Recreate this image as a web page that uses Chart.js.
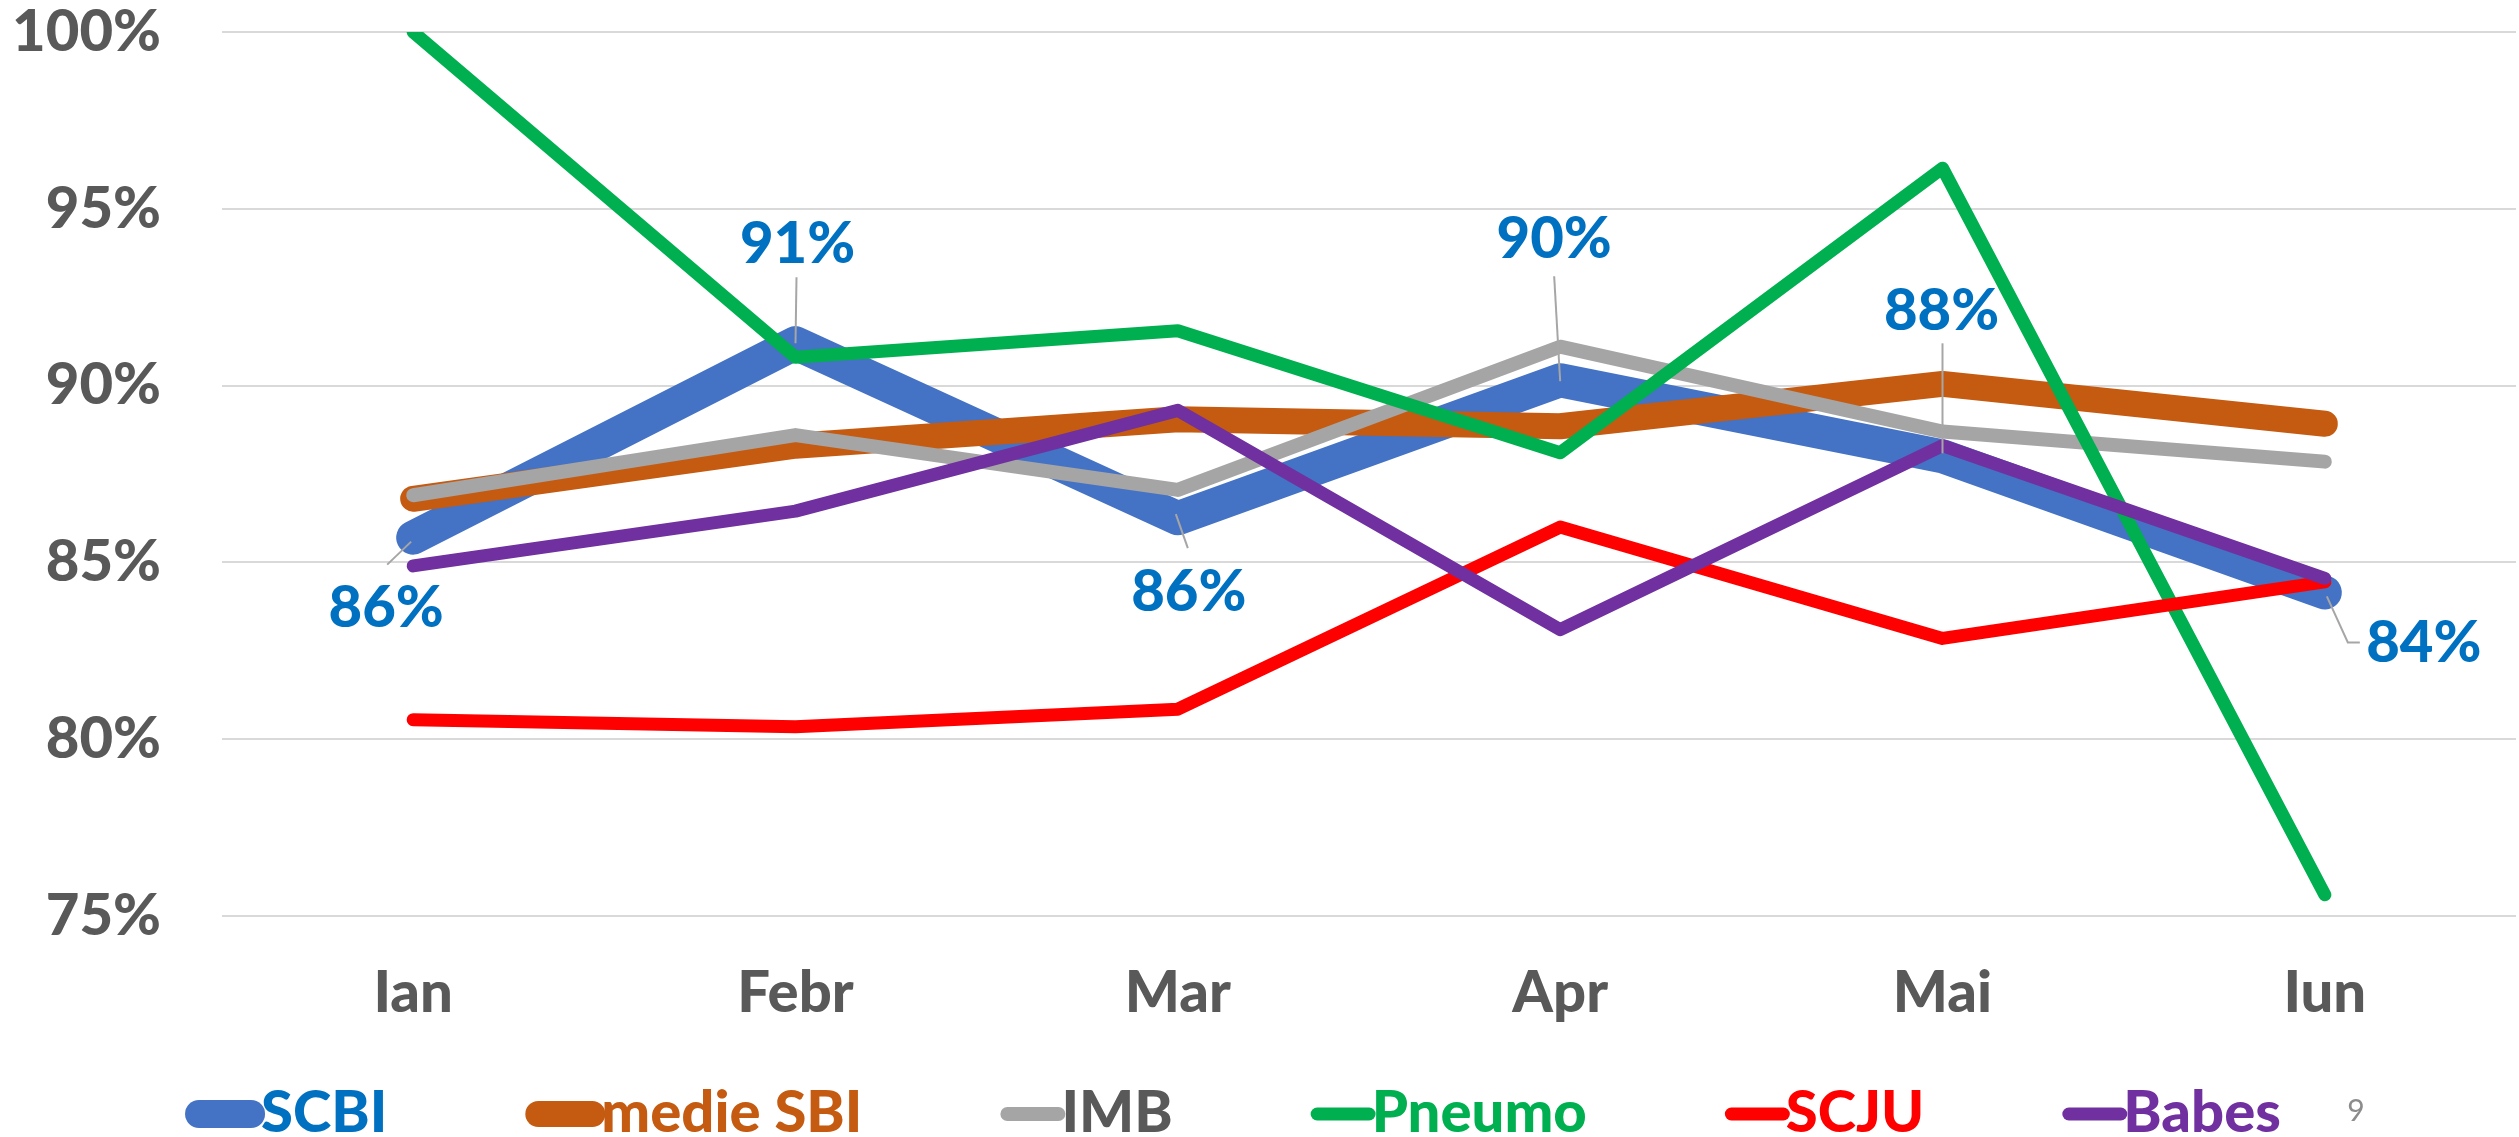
<!DOCTYPE html>
<html>
<head>
<meta charset="utf-8">
<script src="https://cdn.jsdelivr.net/npm/chart.js@4.4.1/dist/chart.umd.min.js"></script>
<style>
  html, body { margin: 0; padding: 0; background: #fff; }
  #wrap { width: 2519px; height: 1137px; }
</style>
</head>
<body>
<div id="wrap"><canvas id="lineChart" width="2519" height="1137"></canvas></div>
<script>
const months = ["Ian", "Febr", "Mar", "Apr", "Mai", "Iun"];
const yTicks = [75, 80, 85, 90, 95, 100];
const scbi = [85.7, 91.2, 86.25, 90.15, 88.0, 84.15];
const medieSbi = [86.8, 88.3, 89.05, 88.85, 90.05, 88.92];
const imb = [86.9, 88.6, 87.05, 91.1, 88.7, 87.85];
const pneumo = [100, 90.8, 91.55, 88.1, 96.15, 75.6];
const scju = [80.55, 80.35, 80.85, 86.0, 82.85, 84.45];
const babes = [84.9, 86.45, 89.3, 83.1, 88.3, 84.55];

const fontFamily = "Lato, 'Liberation Sans', sans-serif";
const fontWeight = "900";
Chart.defaults.font.family = fontFamily;

// where each SCBI value label sits relative to its point, plus leader line
const labelPlacement = [
  { dx: -27, dy: 71, leader: [[-2, 4], [-26, 27]] },
  { dx: 2, dy: -99, leader: [[0, 0], [1, -66]] },
  { dx: 11, dy: 74, leader: [[-2, -4], [10, 30]] },
  { dx: -6, dy: -141, leader: [[0, 1], [-6, -104]] },
  { dx: -1, dy: -145, leader: [[0, -3], [0, -113]] },
  { dx: 99, dy: 51, leader: [[2, 4], [23, 50], [35, 50]] },
];

function series(label, data, color, width, textColor, order) {
  return {
    label: label,
    data: data,
    borderColor: color,
    backgroundColor: color,
    borderWidth: width,
    borderCapStyle: "round",
    borderJoinStyle: "round",
    pointRadius: 0,
    tension: 0,
    order: order,
    legendColor: textColor,
  };
}

const datasets = [
  series("SCBI", scbi, "#4472C4", 34, "#0070C0", 6),
  series("medie SBI", medieSbi, "#C55A11", 26, "#C55A11", 5),
  series("IMB", imb, "#A5A5A5", 14, "#595959", 4),
  series("Pneumo", pneumo, "#00B050", 13, "#00B050", 3),
  series("SCJU", scju, "#FF0000", 13, "#FF0000", 2),
  series("Babes", babes, "#7030A0", 13, "#7030A0", 1),
];
datasets[3].clip = { left: false, top: 0, right: false, bottom: false };

const valueLabels = {
  id: "valueLabels",
  afterDatasetsDraw(chart) {
    const ctx = chart.ctx;
    const meta = chart.getDatasetMeta(0);
    ctx.save();
    meta.data.forEach((pt, i) => {
      const p = labelPlacement[i];
      ctx.strokeStyle = "#A6A6A6";
      ctx.lineWidth = 2;
      ctx.beginPath();
      p.leader.forEach(([lx, ly], k) => {
        if (k === 0) ctx.moveTo(pt.x + lx, pt.y + ly);
        else ctx.lineTo(pt.x + lx, pt.y + ly);
      });
      ctx.stroke();
      ctx.fillStyle = "#0070C0";
      ctx.font = fontWeight + " 58px " + fontFamily;
      ctx.textAlign = "center";
      ctx.textBaseline = "middle";
      ctx.fillText(Math.round(scbi[i]) + "%", pt.x + p.dx, pt.y + p.dy);
    });
    ctx.restore();
  },
};

const bottomLegend = {
  id: "bottomLegend",
  afterDraw(chart) {
    const ctx = chart.ctx;
    const gap = 138;
    const yMid = 1114;
    ctx.save();
    ctx.font = fontWeight + " 58px " + fontFamily;
    const items = chart.data.datasets.map((ds) => {
      const len = ds.borderWidth > 20 ? 80 : 65;
      return { ds: ds, len: len, w: len - 4 + ctx.measureText(ds.label).width };
    });
    const total = items.reduce((s, it) => s + it.w, 0) + gap * (items.length - 1);
    let x = 1233 - total / 2;
    items.forEach((it) => {
      const lw = Math.min(it.ds.borderWidth, 28);
      ctx.strokeStyle = it.ds.borderColor;
      ctx.lineWidth = lw;
      ctx.lineCap = "round";
      ctx.beginPath();
      ctx.moveTo(x + lw / 2, yMid);
      ctx.lineTo(x + it.len - lw / 2, yMid);
      ctx.stroke();
      ctx.fillStyle = it.ds.legendColor;
      ctx.textAlign = "left";
      ctx.textBaseline = "alphabetic";
      ctx.fillText(it.ds.label, x + it.len - 4, 1132);
      x += it.w + gap;
    });
    ctx.font = "30px " + fontFamily;
    ctx.fillStyle = "#8C8C8C";
    ctx.textAlign = "center";
    ctx.textBaseline = "middle";
    ctx.fillText("9", 2356, 1111);
    ctx.restore();
  },
};

const ctx = document.getElementById("lineChart").getContext("2d");
const chart = new Chart(ctx, {
  type: "line",
  data: { labels: months, datasets: datasets },
  options: {
    responsive: false,
    animation: false,
    layout: { padding: { top: 32, right: 3, bottom: 0, left: 0 } },
    plugins: {
      legend: { display: false },
      tooltip: { enabled: false },
    },
    scales: {
      x: {
        offset: true,
        grid: { display: false, drawTicks: false },
        border: { display: false },
        ticks: {
          padding: 42,
          color: "#595959",
          font: { size: 58, weight: fontWeight },
        },
        afterFit(scale) {
          scale.height = 221;
          scale.paddingLeft = 0;
          scale.paddingRight = 0;
        },
      },
      y: {
        min: yTicks[0],
        max: yTicks[yTicks.length - 1],
        afterBuildTicks(scale) { scale.ticks = yTicks.map((v) => ({ value: v })); },
        grid: { color: "#D9D9D9", lineWidth: 2, drawTicks: false },
        border: { display: false },
        ticks: {
          padding: 61,
          color: "#595959",
          font: { size: 58, weight: fontWeight, lineHeight: 1 },
          callback: (v) => v + "%",
        },
        afterFit(scale) {
          scale.width = 222;
          scale.paddingTop = 0;
          scale.paddingBottom = 0;
        },
      },
    },
  },
  plugins: [valueLabels, bottomLegend],
});
</script>
</body>
</html>
